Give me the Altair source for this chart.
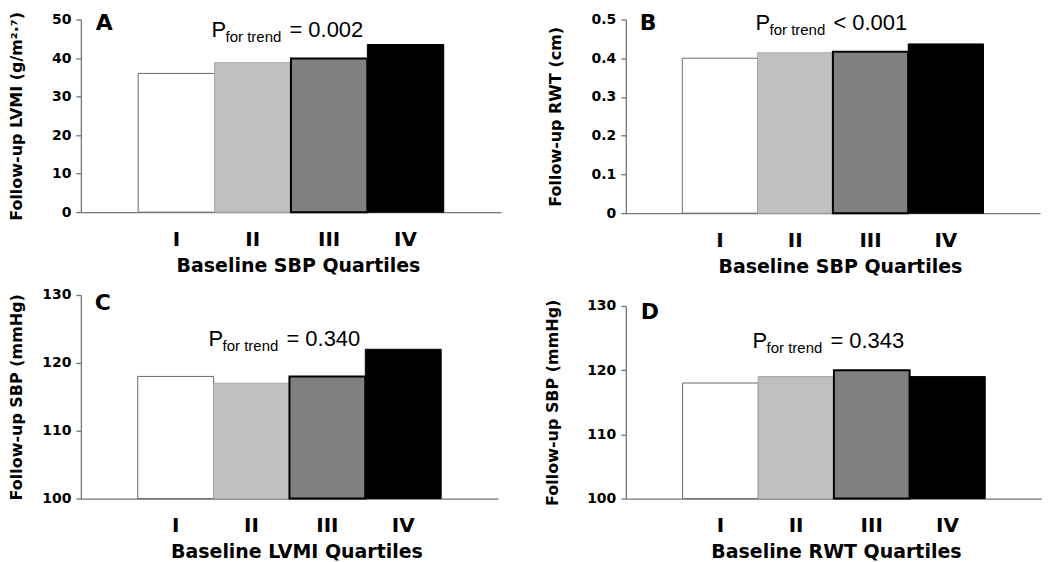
import altair as alt
import pandas as pd

# ---- data ----
quartiles = ["I", "II", "III", "IV"]
lvmi_by_sbp = [36.0, 38.8, 39.9, 43.5]
rwt_by_sbp = [0.400, 0.414, 0.417, 0.437]
sbp_by_lvmi = [118.0, 117.0, 118.0, 122.0]
sbp_by_rwt = [118.0, 119.0, 120.0, 119.0]

ticks_lvmi = [0, 10, 20, 30, 40, 50]
ticks_rwt = [0, 0.1, 0.2, 0.3, 0.4, 0.5]
ticks_sbp = [100, 110, 120, 130]

p_values = ["= 0.002", "< 0.001", "= 0.340", "= 0.343"]
panel_letters = ["A", "B", "C", "D"]
y_titles = ["Follow-up LVMI (g/m²·⁷)", "Follow-up RWT (cm)",
            "Follow-up SBP (mmHg)", "Follow-up SBP (mmHg)"]
x_titles = ["Baseline SBP Quartiles", "Baseline SBP Quartiles",
            "Baseline LVMI Quartiles", "Baseline RWT Quartiles"]

# ---- styles ----
bar_fills = ["#ffffff", "#c0c0c0", "#808080", "#000000"]
bar_strokes = ["#6a6a6a", "#a6a6a6", "#000000", "#000000"]
bar_stroke_widths = [1.0, 1.0, 2.0, 1.0]

BOLD = "DejaVu Sans"
REG = "Liberation Sans"
AXIS_GREY = "#767676"


def panel(values, domain, ticks, fmt, ytitle, xtitle, letter, pval,
          w, h, ytitle_x, xtitle_dx, letter_xy, p_xy):
    df = pd.DataFrame({
        "q": quartiles, "v": values, "fill": bar_fills,
        "stroke": bar_strokes, "sw": bar_stroke_widths,
    })
    bars = alt.Chart(df).mark_bar().encode(
        x=alt.X("q:N", sort=quartiles,
                scale=alt.Scale(paddingInner=0, paddingOuter=0.75),
                axis=alt.Axis(title=xtitle, labelAngle=0, ticks=False, tickSize=0,
                              labelPadding=17, labelFont=BOLD, labelFontSize=20,
                              labelFontWeight="bold", labelColor="black",
                              titleFont=BOLD, titleFontSize=19, titleFontWeight="bold",
                              titleColor="black", titleX=w / 2 + xtitle_dx, titleY=44,
                              domainColor=AXIS_GREY, domainWidth=1.3)),
        y=alt.Y("v:Q", scale=alt.Scale(domain=domain, nice=False, zero=False),
                axis=alt.Axis(title=ytitle, values=ticks, format=fmt, grid=False,
                              tickSize=5, tickColor=AXIS_GREY, tickWidth=1.3,
                              domainColor=AXIS_GREY, domainWidth=1.3,
                              labelPadding=5, labelFont=BOLD, labelFontSize=14,
                              labelFontWeight="bold", labelColor="black",
                              titleFont=BOLD, titleFontSize=16, titleFontWeight="bold",
                              titleColor="black", titleX=ytitle_x)),
        y2=alt.datum(domain[0]),
        fill=alt.Fill("fill:N", scale=None),
        stroke=alt.Stroke("stroke:N", scale=None),
        strokeWidth=alt.StrokeWidth("sw:Q", scale=None),
    )
    letter_t = alt.Chart(pd.DataFrame({"t": [letter]})).mark_text(
        font=BOLD, fontSize=22, fontWeight="bold", align="left",
        baseline="alphabetic", color="black"
    ).encode(x=alt.value(letter_xy[0]), y=alt.value(letter_xy[1]), text="t:N")
    p_t = alt.Chart(pd.DataFrame({"t": ["P"]})).mark_text(
        font=REG, fontSize=22, align="left", baseline="alphabetic", color="black"
    ).encode(x=alt.value(p_xy[0]), y=alt.value(p_xy[1]), text="t:N")
    sub_t = alt.Chart(pd.DataFrame({"t": ["for trend"]})).mark_text(
        font=REG, fontSize=15, align="left", baseline="alphabetic", color="black"
    ).encode(x=alt.value(p_xy[0] + 14), y=alt.value(p_xy[1] + 4.7), text="t:N")
    val_t = alt.Chart(pd.DataFrame({"t": [pval]})).mark_text(
        font=REG, fontSize=22, align="left", baseline="alphabetic", color="black"
    ).encode(x=alt.value(p_xy[0] + 78), y=alt.value(p_xy[1]), text="t:N")
    return alt.layer(bars, letter_t, p_t, sub_t, val_t).properties(width=w, height=h)


pA = panel(lvmi_by_sbp, [0, 50], ticks_lvmi, "d", y_titles[0], x_titles[0],
           panel_letters[0], p_values[0], 421, 193, -56, 7, (15, 10.5), (131, 18))
pB = panel(rwt_by_sbp, [0, 0.5], ticks_rwt, "~g", y_titles[1], x_titles[1],
           panel_letters[1], p_values[1], 415, 194, -62, 7, (14, 10.5), (130, 10.5))
pC = panel(sbp_by_lvmi, [100, 130], ticks_sbp, "d", y_titles[2], x_titles[2],
           panel_letters[2], p_values[2], 418, 204, -56, 7, (14, 15.3), (128, 51))
pD = panel(sbp_by_rwt, [100, 130], ticks_sbp, "d", y_titles[3], x_titles[3],
           panel_letters[3], p_values[3], 417, 193, -65, 2, (15, 12.7), (127, 42))

left_col = alt.vconcat(pA, pC, spacing=13)
right_col = alt.vconcat(pB, pD, spacing=23)

chart = alt.hconcat(left_col, right_col, spacing=43).properties(
    padding={"top": 2, "left": 0, "right": 0, "bottom": 0}, background="white"
).configure_view(stroke=None)

chart.save("out.html", embed_options={"renderer": "svg", "actions": False})
